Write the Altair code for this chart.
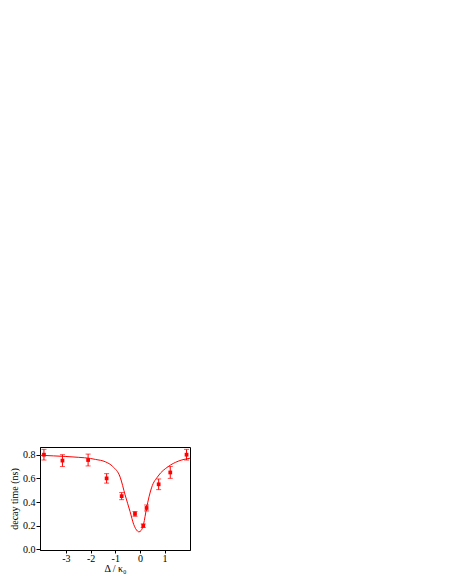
import altair as alt
import pandas as pd

# measured points
det = [-3.89, -3.14, -2.10, -1.35, -0.74, -0.20, 0.135, 0.27, 0.76, 1.23, 1.89]
tau = [0.80, 0.75, 0.755, 0.60, 0.45, 0.30, 0.20, 0.35, 0.55, 0.65, 0.80]
err = [0.045, 0.05, 0.05, 0.04, 0.03, 0.02, 0.015, 0.025, 0.045, 0.05, 0.045]

# fitted curve
fit_x = [-4.04, -3.5, -3.0, -2.5, -2.0, -1.8, -1.4, -1.1, -0.8, -0.6, -0.4, -0.25, -0.1, -0.04,
         0.05, 0.15, 0.27, 0.47, 0.74, 1.15, 1.55, 2.03]
fit_y = [0.795, 0.79, 0.785, 0.778, 0.768, 0.76, 0.74, 0.70, 0.61, 0.46, 0.32, 0.21, 0.155, 0.148,
         0.16, 0.215, 0.35, 0.52, 0.62, 0.70, 0.745, 0.77]

x_ticks = [-3, -2, -1, 0, 1]
y_ticks = [0.0, 0.2, 0.4, 0.6, 0.8]

RED = "#ff0000"
FONT = "Liberation Serif"

pts = pd.DataFrame({"x": det, "y": tau, "lo": [t - e for t, e in zip(tau, err)],
                    "hi": [t + e for t, e in zip(tau, err)]})
fit = pd.DataFrame({"x": fit_x, "y": fit_y})

xs = alt.Scale(domain=[-4.05, 2.03], nice=False, zero=False)
ys = alt.Scale(domain=[-0.005, 0.865], nice=False, zero=False)

xax = alt.Axis(values=x_ticks, title="Δ / κ₀", tickSize=3, labelPadding=0, titlePadding=0,
               labelExpr="datum.value < 0 ? '-' + abs(datum.value) : '' + datum.value")
yax = alt.Axis(values=y_ticks, format=".1f", title="decay time (ns)", tickSize=4,
               labelPadding=1, titleX=-21, titleY=51.5)

X = alt.X("x:Q", scale=xs, axis=xax)

line = alt.Chart(fit).mark_line(color=RED, strokeWidth=1, interpolate="monotone").encode(
    x=X, y=alt.Y("y:Q", scale=ys, axis=yax))
bars = alt.Chart(pts).mark_rule(color=RED, strokeWidth=1).encode(
    x=X, y=alt.Y("lo:Q", scale=ys, axis=yax), y2="hi:Q")
cap_lo = alt.Chart(pts).mark_tick(color=RED, orient="horizontal", size=5, thickness=1).encode(
    x=X, y=alt.Y("lo:Q", scale=ys, axis=yax))
cap_hi = alt.Chart(pts).mark_tick(color=RED, orient="horizontal", size=5, thickness=1).encode(
    x=X, y=alt.Y("hi:Q", scale=ys, axis=yax))
dots = alt.Chart(pts).mark_square(color=RED, size=14, opacity=1).encode(
    x=X, y=alt.Y("y:Q", scale=ys, axis=yax))

chart = (line + bars + cap_lo + cap_hi + dots).properties(
    width=150, height=103, autosize=alt.AutoSizeParams(type="none"),
    padding={"left": 32, "top": 439, "right": 10, "bottom": 35},
).configure(background="white").configure_view(stroke="black", strokeWidth=1).configure_axis(
    grid=False, domainColor="black", tickColor="black",
    labelFont=FONT, titleFont=FONT, labelFontSize=10, titleFontSize=10,
    titleFontWeight="normal", labelColor="black", titleColor="black",
    labelOverlap=False, labelFlush=False, labelBound=False,
)

chart.save("out.html", embed_options={"renderer": "svg", "actions": False})
